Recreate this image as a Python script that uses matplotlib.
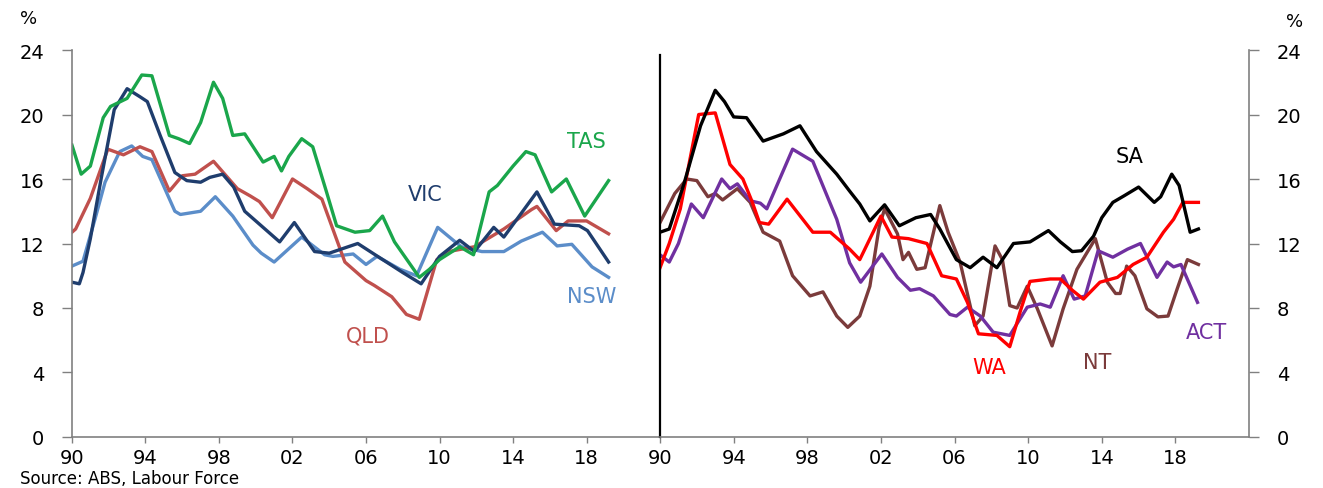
import matplotlib
matplotlib.use("Agg")
import matplotlib.pyplot as plt

# ── data: youth unemployment by state, % ───────────────────────────────────
TAS_yr  = [1990.0, 1990.5, 1991.0, 1991.7, 1992.1, 1993.0, 1993.8, 1994.35, 1995.3, 1995.8, 1996.4, 1997.0,
           1997.7, 1998.2, 1998.75, 1999.4, 2000.4, 2001.0, 2001.4, 2001.8, 2002.5, 2003.1, 2003.85, 2004.4,
           2005.4, 2006.2, 2006.9, 2007.55, 2008.9, 2009.45, 2010.0, 2011.1, 2011.85, 2012.7, 2013.15, 2014.0,
           2014.7, 2015.2, 2016.1, 2016.9, 2017.9, 2019.2]
TAS_val = [18.1, 16.3, 16.8, 19.8, 20.5, 21.0, 22.45, 22.4, 18.7, 18.5, 18.2, 19.5,
           22.0, 21.0, 18.7, 18.8, 17.05, 17.4, 16.5, 17.4, 18.5, 18.0, 15.2, 13.1,
           12.7, 12.8, 13.7, 12.1, 9.9, 10.4, 11.0, 11.8, 11.3, 15.2, 15.6, 16.8,
           17.7, 17.5, 15.2, 16.0, 13.7, 15.9]

VIC_yr  = [1990.0, 1990.4, 1990.6, 1991.0, 1991.6, 1992.3, 1993.0, 1993.7, 1994.1, 1994.8, 1995.6, 1996.25,
           1997.0, 1997.5, 1998.2, 1998.8, 1999.4, 2000.2, 2001.3, 2002.1, 2003.2, 2004.0, 2005.55, 2006.5,
           2008.0, 2009.0, 2010.0, 2011.1, 2011.9, 2012.95, 2013.5, 2014.4, 2015.3, 2016.25, 2017.6, 2018.05,
           2019.2]
VIC_val = [9.6, 9.5, 10.2, 12.3, 16.1, 20.3, 21.6, 21.1, 20.8, 18.7, 16.4, 15.9,
           15.8, 16.1, 16.3, 15.5, 14.0, 13.2, 12.1, 13.3, 11.5, 11.4, 12.0, 11.3,
           10.2, 9.5, 11.2, 12.2, 11.5, 13.0, 12.4, 13.8, 15.2, 13.2, 13.1, 12.8,
           10.85]

NSW_yr  = [1990.0, 1990.6, 1991.25, 1991.8, 1992.6, 1993.25, 1993.85, 1994.35, 1995.6, 1995.9, 1997.0, 1997.8,
           1998.75, 1999.85, 2000.3, 2001.0, 2002.5, 2003.75, 2004.2, 2005.3, 2006.0, 2006.6, 2007.85, 2008.75,
           2009.9, 2010.8, 2011.2, 2012.3, 2013.5, 2014.45, 2015.6, 2016.4, 2017.2, 2018.3, 2019.2]
NSW_val = [10.6, 10.9, 13.5, 15.8, 17.7, 18.05, 17.4, 17.2, 14.0, 13.8, 14.0, 14.9,
           13.7, 11.9, 11.4, 10.85, 12.4, 11.3, 11.2, 11.35, 10.7, 11.2, 10.4, 10.0,
           13.0, 12.15, 11.8, 11.5, 11.5, 12.15, 12.7, 11.85, 11.95, 10.55, 9.9]

QLD_yr  = [1990.0, 1990.2, 1991.0, 1991.95, 1992.8, 1993.7, 1994.35, 1995.3, 1996.0, 1996.7, 1997.7, 1999.0,
           1999.7, 2000.2, 2000.9, 2002.0, 2002.8, 2003.6, 2004.85, 2006.0, 2006.45, 2007.4, 2008.2, 2008.9,
           2009.85, 2010.5, 2011.9, 2013.5, 2015.0, 2015.3, 2016.35, 2017.0, 2018.0, 2019.2]
QLD_val = [12.7, 12.9, 14.8, 17.85, 17.5, 18.0, 17.7, 15.25, 16.2, 16.3, 17.1, 15.4,
           14.95, 14.6, 13.6, 16.0, 15.4, 14.75, 10.85, 9.7, 9.4, 8.7, 7.6, 7.3,
           11.0, 11.5, 11.8, 12.9, 14.1, 14.3, 12.8, 13.4, 13.4, 12.6]

SA_yr  = [1990.0, 1990.5, 1991.3, 1992.2, 1993.0, 1993.5, 1994.0, 1994.7, 1995.6, 1996.7, 1997.6, 1998.5,
          1999.6, 2000.3, 2000.85, 2001.4, 2002.2, 2003.0, 2003.9, 2004.7, 2005.2, 2006.1, 2006.85, 2007.55,
          2008.3, 2009.2, 2010.1, 2011.1, 2011.75, 2012.4, 2012.9, 2013.55, 2014.0, 2014.6, 2015.2, 2016.0,
          2016.85, 2017.2, 2017.8, 2018.2, 2018.8, 2019.25]
SA_val = [12.7, 12.9, 15.7, 19.3, 21.5, 20.8, 19.85, 19.8, 18.35, 18.8, 19.3, 17.7,
          16.3, 15.25, 14.45, 13.4, 14.4, 13.1, 13.6, 13.8, 12.9, 11.0, 10.5, 11.15,
          10.5, 12.0, 12.1, 12.8, 12.1, 11.5, 11.55, 12.45, 13.6, 14.55, 14.95, 15.5,
          14.55, 14.9, 16.3, 15.6, 12.7, 12.9]

WA_yr  = [1990.0, 1990.5, 1991.1, 1992.1, 1993.0, 1993.8, 1994.5, 1995.0, 1995.4, 1995.9, 1996.9, 1998.3,
          1999.25, 2000.3, 2000.85, 2002.0, 2002.6, 2003.5, 2004.5, 2005.3, 2006.1, 2006.7, 2007.3, 2008.3,
          2009.0, 2009.6, 2010.1, 2011.2, 2011.75, 2012.4, 2013.0, 2013.9, 2014.85, 2015.7, 2016.45, 2017.35,
          2017.9, 2018.4, 2019.25]
WA_val = [10.5, 12.0, 14.15, 20.0, 20.1, 16.9, 16.0, 14.6, 13.3, 13.2, 14.75, 12.7,
          12.7, 11.65, 11.0, 13.7, 12.4, 12.3, 12.0, 10.0, 9.8, 8.35, 6.4, 6.3,
          5.6, 7.9, 9.65, 9.8, 9.8, 9.1, 8.55, 9.6, 9.9, 10.7, 11.15, 12.7,
          13.5, 14.55, 14.55]

ACT_yr  = [1990.0, 1990.5, 1991.0, 1991.7, 1992.35, 1993.35, 1993.8, 1994.2, 1994.9, 1995.45, 1995.8, 1997.2,
           1998.3, 1999.6, 2000.3, 2000.9, 2002.05, 2002.9, 2003.6, 2004.1, 2004.85, 2005.75, 2006.1, 2006.7,
           2007.4, 2008.1, 2009.0, 2009.95, 2010.65, 2011.2, 2011.9, 2012.5, 2013.1, 2013.8, 2014.6, 2015.4,
           2016.1, 2017.0, 2017.55, 2017.9, 2018.3, 2019.2]
ACT_val = [11.3, 10.85, 12.0, 14.45, 13.6, 16.0, 15.4, 15.7, 14.65, 14.5, 14.15, 17.85,
           17.1, 13.5, 10.8, 9.6, 11.35, 9.9, 9.1, 9.2, 8.75, 7.6, 7.5, 8.05,
           7.5, 6.5, 6.3, 8.05, 8.25, 8.05, 10.0, 8.55, 8.75, 11.55, 11.15, 11.65,
           12.0, 9.9, 10.85, 10.55, 10.7, 8.35]

NT_yr  = [1990.0, 1990.8, 1991.45, 1992.0, 1992.6, 1993.0, 1993.4, 1994.2, 1994.9, 1995.6, 1996.5, 1997.2,
          1998.15, 1998.85, 1999.6, 2000.2, 2000.85, 2001.4, 2001.9, 2002.2, 2002.9, 2003.2, 2003.5, 2003.95,
          2004.4, 2005.2, 2005.65, 2006.3, 2007.1, 2007.55, 2008.2, 2008.6, 2009.0, 2009.4, 2009.95, 2010.5,
          2011.3, 2011.9, 2012.65, 2013.65, 2014.3, 2014.75, 2015.0, 2015.35, 2015.8, 2016.45, 2017.05, 2017.6,
          2018.1, 2018.65, 2019.25]
NT_val = [13.3, 15.1, 16.0, 15.9, 14.9, 15.1, 14.7, 15.4, 14.55, 12.7, 12.15, 10.0,
          8.75, 9.0, 7.5, 6.8, 7.5, 9.35, 13.0, 14.15, 12.6, 11.0, 11.45, 10.4,
          10.5, 14.35, 12.7, 10.85, 6.9, 7.5, 11.85, 11.0, 8.15, 8.0, 9.35, 7.95,
          5.65, 7.95, 10.4, 12.3, 9.6, 8.9, 8.9, 10.6, 10.0, 7.95, 7.45, 7.5,
          9.2, 11.0, 10.7]

YTICKS = [0, 4, 8, 12, 16, 20, 24]
XTICKS = [1990, 1994, 1998, 2002, 2006, 2010, 2014, 2018]
XLABELS = ["90", "94", "98", "02", "06", "10", "14", "18"]

C_TAS, C_VIC, C_NSW, C_QLD = "#1aa64b", "#1f3d6d", "#5b8dc9", "#c0504d"
C_SA, C_WA, C_ACT, C_NT = "black", "#ff0000", "#7030a0", "#7b3b3b"
GREY = "#808080"

plt.rcParams["font.family"] = ["DejaVu Sans"]

fig = plt.figure(figsize=(13.23, 4.89), dpi=100)
axL = fig.add_axes([0.0544, 0.1043, 0.4445, 0.7914])
axR = fig.add_axes([0.4989, 0.1043, 0.4452, 0.7914])

LW = 2.4
axL.plot(NSW_yr, NSW_val, color=C_NSW, lw=LW)
axL.plot(QLD_yr, QLD_val, color=C_QLD, lw=LW)
axL.plot(VIC_yr, VIC_val, color=C_VIC, lw=LW)
axL.plot(TAS_yr, TAS_val, color=C_TAS, lw=LW)

axR.plot(NT_yr, NT_val, color=C_NT, lw=LW)
axR.plot(ACT_yr, ACT_val, color=C_ACT, lw=LW)
axR.plot(WA_yr, WA_val, color=C_WA, lw=LW)
axR.plot(SA_yr, SA_val, color=C_SA, lw=LW)

for ax in (axL, axR):
    ax.set_xlim(1990, 2022)
    ax.set_ylim(0, 24)
    ax.set_yticks(YTICKS)
    ax.set_xticks(XTICKS)
    ax.set_xticklabels(XLABELS)
    ax.spines["top"].set_visible(False)
    ax.spines["bottom"].set_color(GREY)
    ax.spines["bottom"].set_linewidth(1.2)
    ax.tick_params(axis="x", direction="out", length=4, width=1, color=GREY,
                   labelsize=14, pad=4)
    ax.tick_params(axis="y", direction="out", length=7, width=1, color=GREY,
                   labelsize=14, pad=13)

axL.spines["right"].set_visible(False)
axL.spines["left"].set_color(GREY)
axL.spines["left"].set_linewidth(1.2)

axR.spines["left"].set_color("black")
axR.spines["left"].set_linewidth(1.6)
axR.spines["left"].set_bounds(0, 23.7)
axR.spines["right"].set_color(GREY)
axR.spines["right"].set_linewidth(1.2)
axR.yaxis.tick_right()

# series labels
lab = dict(fontsize=15, ha="center", va="center")
axL.text(2018.0, 18.35, "TAS", color=C_TAS, **lab)
axL.text(2009.2, 15.1, "VIC", color=C_VIC, **lab)
axL.text(2018.3, 8.75, "NSW", color=C_NSW, **lab)
axL.text(2006.1, 6.3, "QLD", color=C_QLD, **lab)
axR.text(2015.5, 17.4, "SA", color=C_SA, **lab)
axR.text(2007.9, 4.35, "WA", color=C_WA, **lab)
axR.text(2013.75, 4.65, "NT", color=C_NT, **lab)
axR.text(2019.7, 6.5, "ACT", color=C_ACT, **lab)

fig.text(0.015, 0.962, "%", fontsize=13, ha="left", va="center")
fig.text(0.972, 0.955, "%", fontsize=13, ha="left", va="center")
fig.text(0.015, 0.002, "Source: ABS, Labour Force", fontsize=12, ha="left", va="bottom")

fig.savefig("out.png", dpi=100)
